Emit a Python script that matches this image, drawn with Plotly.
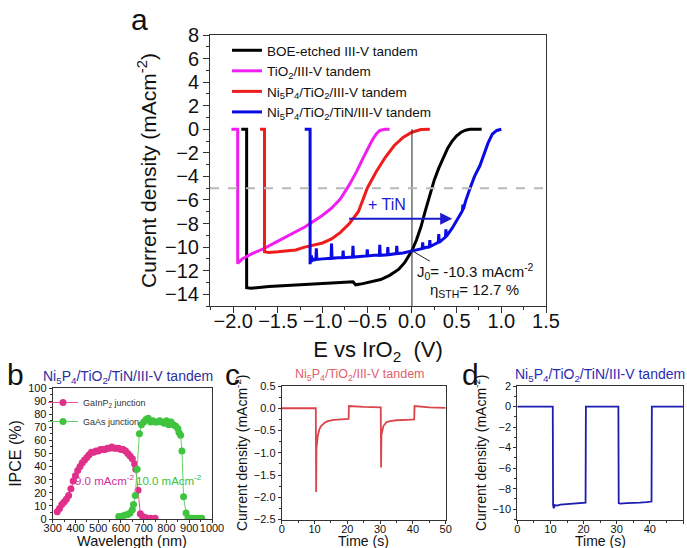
import plotly.graph_objects as go

W, H = 687, 548
FONT = "Arial, 'Liberation Sans', sans-serif"

# ---------------- Panel a data (LSV curves) ----------------
boe_E = [-1.91, -1.85, -1.85, -1.80, -1.60, -1.40, -1.20, -1.00, -0.80, -0.66, -0.63, -0.55, -0.45,
         -0.35, -0.25, -0.15, -0.08, 0.00, 0.05, 0.10, 0.15, 0.20, 0.25, 0.30, 0.35, 0.40, 0.45,
         0.50, 0.55, 0.60, 0.65, 0.78]
boe_J = [0, 0, -13.45, -13.5, -13.35, -13.25, -13.15, -13.05, -13.0, -12.95, -13.2, -13.1, -12.95,
         -12.75, -12.4, -11.9, -11.3, -10.3, -9.4, -8.3, -6.9, -5.5, -4.3, -3.3, -2.4, -1.6, -1.0,
         -0.55, -0.25, -0.08, 0.0, 0.0]

tio2_E = [-2.02, -1.95, -1.95, -1.90, -1.80, -1.65, -1.50, -1.40, -1.30, -1.20, -1.10, -1.00, -0.90,
          -0.80, -0.70, -0.62, -0.55, -0.50, -0.45, -0.40, -0.36, -0.30, -0.25]
tio2_J = [0, 0, -11.4, -11.0, -10.6, -10.1, -9.5, -9.1, -8.7, -8.3, -7.8, -7.3, -6.7,
          -5.9, -4.7, -3.6, -2.5, -1.7, -1.0, -0.4, -0.1, 0.0, 0.0]

ni_E = [-1.70, -1.65, -1.65, -1.60, -1.50, -1.40, -1.30, -1.20, -1.10, -1.00, -0.90, -0.80, -0.70,
        -0.60, -0.50, -0.40, -0.30, -0.20, -0.10, 0.00, 0.10, 0.20]
ni_J = [0, 0, -10.4, -10.45, -10.4, -10.35, -10.25, -10.0, -9.85, -9.65, -9.3, -8.75, -8.0,
        -7.0, -5.0, -3.6, -2.4, -1.4, -0.7, -0.25, -0.02, 0.0]

tin_E = [-1.20, -1.14, -1.14, -1.135, -1.13, -1.125, -1.12, -1.11, -1.10, -1.075, -1.07, -1.065,
         -1.00, -0.905, -0.90, -0.895, -0.83, -0.775, -0.77, -0.765, -0.665, -0.66, -0.655, -0.60,
         -0.505, -0.50, -0.495, -0.42, -0.365, -0.36, -0.355, -0.275, -0.27, -0.265, -0.175, -0.17,
         -0.165, -0.10, 0.00, 0.10, 0.115, 0.12, 0.125, 0.195, 0.20, 0.205, 0.295, 0.30, 0.305,
         0.375, 0.38, 0.385, 0.45, 0.50, 0.55, 0.565, 0.57, 0.575, 0.60, 0.65, 0.70, 0.76, 0.80,
         0.85, 0.90, 0.95, 1.00]
tin_J = [0, 0, -11.45, -10.8, -11.3, -10.7, -11.2, -10.95, -11.1, -11.05, -10.1, -11.05,
         -11.0, -10.95, -9.7, -10.95, -10.9, -10.9, -10.3, -10.9, -10.85, -9.9, -10.85, -10.8,
         -10.75, -10.2, -10.75, -10.7, -10.7, -9.8, -10.7, -10.65, -10.0, -10.65, -10.55, -9.9,
         -10.55, -10.5, -10.35, -10.15, -10.1, -9.6, -10.1, -9.95, -9.4, -9.95, -9.6, -8.9, -9.6,
         -9.15, -8.5, -9.1, -8.4, -7.8, -7.1, -6.9, -6.4, -6.8, -6.1, -5.0, -4.0, -3.1, -2.3,
         -1.2, -0.4, -0.1, 0.0]

series_a = [
    ("BOE-etched III-V tandem", boe_E, boe_J, "#000000"),
    ("TiO<sub>2</sub>/III-V tandem", tio2_E, tio2_J, "#f01ef0"),
    ("Ni<sub>5</sub>P<sub>4</sub>/TiO<sub>2</sub>/III-V tandem", ni_E, ni_J, "#ee1c1c"),
    ("Ni<sub>5</sub>P<sub>4</sub>/TiO<sub>2</sub>/TiN/III-V tandem", tin_E, tin_J, "#0a0ae6"),
]

# ---------------- Panel b data (IPCE) ----------------
gainp_wl = [320, 330, 340, 350, 360, 370, 380, 390, 400, 410, 420, 430, 440, 450, 460, 470, 480, 490,
            500, 510, 520, 530, 540, 550, 560, 570, 580, 590, 600, 610, 620, 630, 640, 650, 660, 665,
            675, 685, 695, 710, 730, 750]
gainp_ipce = [5.6, 8, 11, 13, 15, 18, 23, 29, 33, 37, 40, 43, 45, 47, 49, 51, 51, 52,
              52, 53, 53, 53, 54, 54, 55, 54, 54, 54, 53, 53, 52, 50, 48, 46, 42, 38,
              22, 4, 2, 1, 0.5, 0.5]
gaas_wl = [590, 600, 610, 620, 630, 640, 650, 655, 663, 671, 681, 690, 700, 710, 720, 730, 740, 750,
           760, 770, 780, 790, 800, 810, 820, 830, 840, 850, 855, 862, 868, 875, 886, 895, 910, 925,
           940, 955]
gaas_ipce = [2, 2, 2.5, 3, 3.5, 4.5, 7, 11, 18, 38, 65, 72, 74, 76, 77, 74, 75, 74,
             74, 75, 74, 73, 75, 72, 74, 72, 71, 69, 66, 64, 52, 17, 4.5, 1, 0.5, 0.5,
             0.5, 0.5]

# ---------------- Panel c data ----------------
c_t = [0, 10.4, 10.5, 10.6, 11.0, 11.5, 12.0, 13.0, 14.0, 16.0, 18.0, 20.4, 20.5, 22.0, 25.0,
       30.2, 30.3, 30.4, 31.0, 31.5, 32.0, 33.0, 35.0, 38.0, 40.4, 40.5, 42.0, 45.0, 50.0]
c_J = [0.0, 0.0, -1.88, -0.9, -0.62, -0.47, -0.40, -0.33, -0.29, -0.26, -0.25, -0.24, 0.05, 0.04, 0.03,
       0.02, -1.33, -0.6, -0.40, -0.34, -0.31, -0.29, -0.27, -0.26, -0.25, 0.05, 0.04, 0.02, 0.01]

# ---------------- Panel d data ----------------
d_t = [0, 10.7, 10.8, 11.0, 11.3, 12, 13, 15, 17, 19, 20.6, 20.7, 30.5, 30.6, 31, 33, 35, 37, 39,
       40.5, 40.6, 50]
d_J = [0, 0, -9.6, -9.9, -9.6, -9.65, -9.55, -9.5, -9.45, -9.4, -9.35, 0, 0, -9.4, -9.45, -9.4,
       -9.4, -9.35, -9.3, -9.25, 0, 0]


def px_x(p):
    return p / W


def px_y(p):
    return 1 - p / H


fig = go.Figure()

for name, xs, ys, col in series_a:
    fig.add_trace(go.Scatter(x=xs, y=ys, mode="lines", name=name,
                             line=dict(color=col, width=3), xaxis="x", yaxis="y",
                             legend="legend"))

fig.add_trace(go.Scatter(x=gainp_wl, y=gainp_ipce, mode="lines+markers",
                         name="GaInP<sub>2</sub> junction",
                         line=dict(color="#e8509a", width=1),
                         marker=dict(color="#e0308a", size=7),
                         xaxis="x2", yaxis="y2", legend="legend2"))
fig.add_trace(go.Scatter(x=gaas_wl, y=gaas_ipce, mode="lines+markers",
                         name="GaAs junction",
                         line=dict(color="#66d066", width=1),
                         marker=dict(color="#3fc43f", size=7),
                         xaxis="x2", yaxis="y2", legend="legend2"))

fig.add_trace(go.Scatter(x=c_t, y=c_J, mode="lines", showlegend=False,
                         line=dict(color="#d9454a", width=1.8), xaxis="x3", yaxis="y3"))
fig.add_trace(go.Scatter(x=d_t, y=d_J, mode="lines", showlegend=False,
                         line=dict(color="#1c1cb0", width=1.8), xaxis="x4", yaxis="y4"))


def ax(domain, rng, dtick, tsize, minor_dtick=None, tickformat=None, anchor=None, title=None,
       tfsize=14, standoff=4, ticklen=5, lblstand=0):
    d = dict(domain=domain, range=rng, dtick=dtick, tick0=0, showline=True, linecolor="#333",
             linewidth=1, mirror=True, ticks="outside", ticklen=ticklen, tickwidth=1,
             tickcolor="#333", showgrid=False, zeroline=False, automargin=False, tickangle=0,
             ticklabelstandoff=lblstand,
             tickfont=dict(size=tsize, color="#111", family=FONT), anchor=anchor)
    if minor_dtick:
        d["minor"] = dict(dtick=minor_dtick, ticks="outside", ticklen=max(2, ticklen // 2),
                          tickcolor="#333", showgrid=False)
    if tickformat:
        d["tickformat"] = tickformat
    if title:
        d["title"] = dict(text=title, font=dict(size=tfsize, color="#111", family=FONT),
                          standoff=standoff)
    return d


yc_top, yc_bot = px_y(386), px_y(519.5)

fig.update_layout(
    width=W, height=H, margin=dict(l=0, r=0, t=0, b=0, autoexpand=False),
    paper_bgcolor="white", plot_bgcolor="white",
    font=dict(family=FONT, color="#111"),
    xaxis=ax([px_x(210), px_x(546)], [-2.26, 1.5], 0.5, 20, 0.25, ".1f", "y",
             "E vs IrO<sub>2</sub>  (V)", 22, 10, 6, -9),
    yaxis=ax([px_y(306), px_y(35)], [-15, 8], 2, 20, 1, None, "x",
             "Current density (mAcm<sup>-2</sup>)", 21, 2, 6),
    xaxis2=ax([px_x(52.7), px_x(212)], [300, 1000], 100, 11, 50, None, "y2", None, 16, 0, 3, -4),
    yaxis2=ax([px_y(519), px_y(388)], [0, 100], 10, 11, 5, None, "x2",
              "IPCE (%)", 16, 2, 3),
    xaxis3=ax([px_x(281.7), px_x(445.7)], [0, 50], 10, 11, 5, None, "y3", None, 15, 0, 3, -4),
    yaxis3=ax([yc_bot, yc_top], [-2.5, 0.5], 0.5, 11, 0.25, ".1f", "x3",
              "Current density (mAcm<sup>-2</sup>)", 14, 2, 3),
    xaxis4=ax([px_x(517.3), px_x(683)], [0, 50], 10, 11, 5, None, "y4", None, 15, 0, 3, -4),
    yaxis4=ax([yc_bot, yc_top], [-11, 2], 2, 11, 1, None, "x4",
              "Current density (mAcm<sup>-2</sup>)", 14, 2, 3),
    legend=dict(x=px_x(227), y=px_y(35), xanchor="left", yanchor="top",
                bgcolor="rgba(0,0,0,0)", font=dict(size=13.5, family=FONT, color="#111"),
                tracegroupgap=0, itemwidth=30),
    legend2=dict(x=px_x(43), y=px_y(388), xanchor="left", yanchor="top",
                 bgcolor="rgba(0,0,0,0)", font=dict(size=9, family=FONT, color="#333"),
                 tracegroupgap=0, itemwidth=30),
)

shapes = [
    dict(type="line", xref="x", yref="y", x0=0, x1=0, y0=-15, y1=0,
         line=dict(color="#222", width=1)),
    dict(type="line", xref="x domain", yref="y", x0=0, x1=1, y0=-5, y1=-5,
         line=dict(color="#b8b8b8", width=2, dash="dash")),
    dict(type="line", xref="x", yref="y", x0=0.01, x1=0.2, y0=-10.35, y1=-11.2,
         line=dict(color="#222", width=1)),
]
fig.update_layout(shapes=shapes)


def pa(x, y, text, size, color, xanchor="center"):
    return dict(x=px_x(x), y=px_y(y), xref="paper", yref="paper", text=text, showarrow=False,
                xanchor=xanchor, yanchor="middle", font=dict(size=size, color=color, family=FONT))


ann = [
    # arrow + TiN
    dict(x=0.45, y=-7.6, ax=-0.72, ay=-7.6, xref="x", yref="y", axref="x", ayref="y",
         showarrow=True, arrowhead=2, arrowsize=1.2, arrowwidth=2, arrowcolor="#1a1ad0", text=""),
    dict(x=-0.28, y=-6.4, xref="x", yref="y", text="+ TiN", showarrow=False,
         xanchor="center", yanchor="middle", font=dict(size=16, color="#1a1ad0", family=FONT)),
    dict(x=0.03, y=-12.1, xref="x", yref="y", xanchor="left", yanchor="middle",
         text="J<sub>0</sub>= -10.3 mAcm<sup>-2</sup>",
         showarrow=False, font=dict(size=15, color="#111", family=FONT)),
    dict(x=0.18, y=-13.7, xref="x", yref="y", xanchor="left", yanchor="middle",
         text="η<sub>STH</sub>= 12.7 %",
         showarrow=False, font=dict(size=15, color="#111", family=FONT)),
    # b annotations
    dict(x=528, y=30, xref="x2", yref="y2", text="9.0 mAcm<sup>-2</sup>", showarrow=False,
         xanchor="center", yanchor="middle", font=dict(size=11.5, color="#d0309a", family=FONT)),
    dict(x=812, y=30, xref="x2", yref="y2", text="10.0 mAcm<sup>-2</sup>", showarrow=False,
         xanchor="center", yanchor="middle", font=dict(size=11.5, color="#3cbf3c", family=FONT)),
    # axis titles of the lower panels
    pa(132, 541, "Wavelength (nm)", 14.5, "#111"),
    pa(363.7, 541, "Time (s)", 14, "#111"),
    pa(600, 541, "Time (s)", 14, "#111"),
    # panel titles
    pa(128, 377, "Ni<sub>5</sub>P<sub>4</sub>/TiO<sub>2</sub>/TiN/III-V tandem", 14, "#2e2e9e"),
    pa(360, 375, "Ni<sub>5</sub>P<sub>4</sub>/TiO<sub>2</sub>/III-V tandem", 12.5, "#e0606a"),
    pa(513, 375, "Ni<sub>5</sub>P<sub>4</sub>/TiO<sub>2</sub>/TiN/III-V tandem", 14, "#2b2bb5",
       xanchor="left"),
    # panel letters
    pa(139, 20, "a", 30, "#111"),
    pa(15, 374, "b", 30, "#111"),
    pa(232, 374, "c", 30, "#111"),
    pa(470, 374, "d", 30, "#111"),
]
fig.update_layout(annotations=ann)

fig.write_html("out.html", config={"displayModeBar": False},
               post_script="document.body.style.margin='0px';")
